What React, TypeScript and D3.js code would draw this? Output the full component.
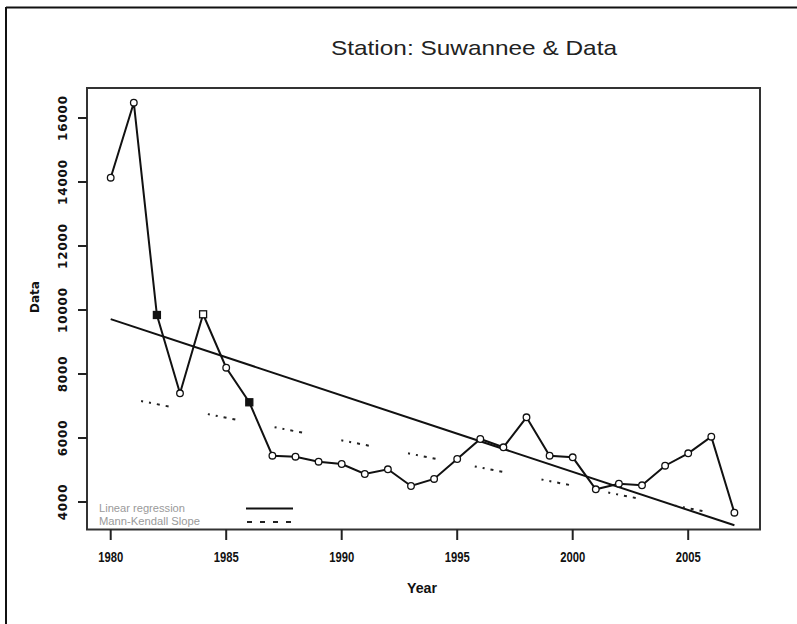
import React from 'react';
import * as d3 from 'd3';

// values
const years = [
  1980, 1981, 1982, 1983, 1984, 1985, 1986, 1987, 1988, 1989, 1990, 1991, 1992, 1993,
  1994, 1995, 1996, 1997, 1998, 1999, 2000, 2001, 2002, 2003, 2004, 2005, 2006, 2007,
];
const values = [
  14134, 16478, 9844, 7397, 9866, 8197, 7116, 5447, 5416, 5259, 5187, 4875, 5022, 4500,
  4720, 5344, 5969, 5709, 6647, 5447, 5397, 4397, 4572, 4522, 5134, 5522, 6041, 3666,
];
const yTicks = [4000, 6000, 8000, 10000, 12000, 14000, 16000];
const xTicks = [1980, 1985, 1990, 1995, 2000, 2005];
const squareYears = [1982, 1984, 1986];
const filledYears = [1982, 1986];
const legendLabels = ['Linear regression', 'Mann-Kendall Slope'];

const W = 797;
const H = 624;
const plot = { left: 87, right: 760, top: 88, bottom: 529.5 };

// least squares fit
function linearFit(xs: number[], ys: number[]) {
  const mx = d3.mean(xs)!;
  const my = d3.mean(ys)!;
  let sxy = 0;
  let sxx = 0;
  xs.forEach((x, i) => {
    sxy += (x - mx) * (ys[i] - my);
    sxx += (x - mx) * (x - mx);
  });
  const slope = sxy / sxx;
  return { slope, intercept: my - slope * mx };
}

// Sen's slope (Mann-Kendall)
function senFit(xs: number[], ys: number[]) {
  const slopes: number[] = [];
  for (let i = 0; i < xs.length; i++) {
    for (let j = i + 1; j < xs.length; j++) {
      slopes.push((ys[j] - ys[i]) / (xs[j] - xs[i]));
    }
  }
  const slope = d3.median(slopes)!;
  const intercept = d3.median(ys)! - slope * d3.median(xs)!;
  return { slope, intercept };
}

export default function App() {
  const x = d3.scaleLinear().domain([1980, 2005]).range([110.7, 688.2]);
  const y = d3.scaleLinear().domain([4000, 16000]).range([502, 118]);

  const pts: [number, number][] = years.map((yr, i) => [yr, values[i]]);
  const line = d3
    .line<[number, number]>()
    .x((d) => x(d[0]))
    .y((d) => y(d[1]));

  const lin = linearFit(years, values);
  const sen = senFit(years, values);
  const x0 = years[0];
  const x1 = years[years.length - 1];
  const linPts: [number, number][] = [
    [x0, lin.intercept + lin.slope * x0],
    [x1, lin.intercept + lin.slope * x1],
  ];
  const senPts: [number, number][] = [
    [x0, sen.intercept + sen.slope * x0],
    [x1, sen.intercept + sen.slope * x1],
  ];

  const tickFont = "'Liberation Sans', Arial, sans-serif";

  return (
    <svg
      width={W}
      height={H}
      style={{ position: 'absolute', left: 0, top: 0, background: '#fff' }}
    >
      <rect width={W} height={H} fill="#fff" />
      {/* outer frame */}
      <line x1={6} y1={7.5} x2={W} y2={7.5} stroke="#111" strokeWidth={2} />
      <line x1={6} y1={7} x2={6} y2={H} stroke="#111" strokeWidth={2} />

      <text
        x={474}
        y={55}
        textAnchor="middle"
        fontFamily={tickFont}
        fontSize={21}
        fill="#222"
        textLength={286}
        lengthAdjust="spacingAndGlyphs"
      >
        Station: Suwannee &amp; Data
      </text>

      {/* plot frame */}
      <rect
        x={plot.left}
        y={plot.top}
        width={plot.right - plot.left}
        height={plot.bottom - plot.top}
        fill="none"
        stroke="#333"
        strokeWidth={2}
      />

      {/* y axis */}
      {yTicks.map((t) => (
        <g key={t}>
          <line x1={78} x2={plot.left} y1={y(t)} y2={y(t)} stroke="#222" strokeWidth={2} />
          <text
            transform={`translate(67, ${y(t)}) rotate(-90)`}
            textAnchor="middle"
            fontFamily="'DejaVu Sans', sans-serif"
            fontWeight="bold"
            fontSize={12}
            letterSpacing={0.8}
            fill="#111"
          >
            {t}
          </text>
        </g>
      ))}
      <text
        transform="translate(39, 297) rotate(-90)"
        textAnchor="middle"
        fontFamily="'DejaVu Sans', sans-serif"
        fontWeight="bold"
        fontSize={12}
        fill="#111"
      >
        Data
      </text>

      {/* x axis */}
      {xTicks.map((t) => (
        <g key={t}>
          <line x1={x(t)} x2={x(t)} y1={plot.bottom} y2={540} stroke="#222" strokeWidth={2} />
          <text
            x={x(t)}
            y={562}
            textAnchor="middle"
            fontFamily={tickFont}
            fontWeight="bold"
            fontSize={14}
            fill="#111"
            textLength={25}
            lengthAdjust="spacingAndGlyphs"
          >
            {t}
          </text>
        </g>
      ))}
      <text
        x={422}
        y={593}
        textAnchor="middle"
        fontFamily={tickFont}
        fontWeight="bold"
        fontSize={14}
        fill="#111"
        textLength={30}
        lengthAdjust="spacingAndGlyphs"
      >
        Year
      </text>

      {/* regression lines */}
      <path d={line(linPts)!} fill="none" stroke="#111" strokeWidth={2} />
      <path
        d={line(senPts)!}
        fill="none"
        stroke="#222"
        strokeWidth={2}
        strokeDasharray="2,6,2,6,3,6,3,40"
        strokeDashoffset={37}
      />

      {/* data */}
      <path d={line(pts)!} fill="none" stroke="#111" strokeWidth={2} />
      {pts.map((d) =>
        squareYears.includes(d[0]) ? (
          <rect
            key={d[0]}
            x={x(d[0]) - 3.5}
            y={y(d[1]) - 3.5}
            width={7}
            height={7}
            fill={filledYears.includes(d[0]) ? '#111' : '#fff'}
            stroke="#111"
            strokeWidth={1.3}
          />
        ) : (
          <circle
            key={d[0]}
            cx={x(d[0])}
            cy={y(d[1])}
            r={3.3}
            fill="#fff"
            stroke="#111"
            strokeWidth={1.3}
          />
        )
      )}

      {/* legend */}
      <text
        x={99}
        y={512}
        fontFamily={tickFont}
        fontSize={10}
        fill="#9a9a9a"
        textLength={86}
        lengthAdjust="spacingAndGlyphs"
      >
        {legendLabels[0]}
      </text>
      <text
        x={99}
        y={525}
        fontFamily={tickFont}
        fontSize={10}
        fill="#9a9a9a"
        textLength={101}
        lengthAdjust="spacingAndGlyphs"
      >
        {legendLabels[1]}
      </text>
      <line x1={246} x2={293} y1={508.5} y2={508.5} stroke="#111" strokeWidth={2} />
      <line
        x1={247}
        x2={295}
        y1={522}
        y2={522}
        stroke="#222"
        strokeWidth={2}
        strokeDasharray="5,8"
      />
    </svg>
  );
}
